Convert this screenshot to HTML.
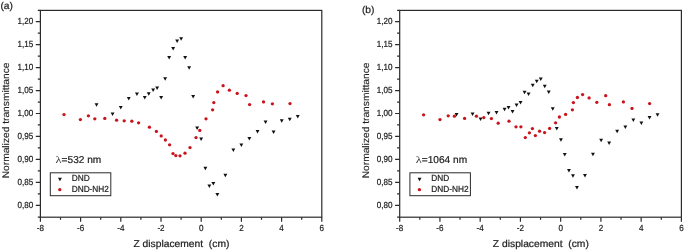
<!DOCTYPE html>
<html lang="en">
<head>
<meta charset="utf-8">
<title>Z-scan normalized transmittance</title>
<style>
html,body{margin:0;padding:0;background:#fff;}
body{width:685px;height:251px;overflow:hidden;}
svg{display:block;font-family:"Liberation Sans",sans-serif;fill:#1e1e1e;}
.t{font-size:8.9px;}
.a{font-size:10px;}
.l{font-size:8.8px;}
.y{font-size:9.6px;stroke-width:0.12px;}
text{stroke:#1e1e1e;stroke-width:0.22px;text-rendering:geometricPrecision;}
.s{font-family:"Liberation Serif","DejaVu Serif",serif;font-size:9.6px;stroke:none;fill:#3c3c3c;}
</style>
</head>
<body>
<svg width="685" height="251" viewBox="0 0 685 251">
<rect width="685" height="251" fill="#fff"/>
<g fill="none" stroke="#2b2b2b" stroke-width="1.2">
<rect x="40.40" y="10.4" width="281.40" height="206.80"/>
<path d="M40.40 217.2v4.6M60.50 217.2v2.6M80.60 217.2v4.6M100.70 217.2v2.6M120.80 217.2v4.6M140.90 217.2v2.6M161.00 217.2v4.6M181.10 217.2v2.6M201.20 217.2v4.6M221.30 217.2v2.6M241.40 217.2v4.6M261.50 217.2v2.6M281.60 217.2v4.6M301.70 217.2v2.6M321.80 217.2v4.6M40.40 217.20h-2.6M40.40 205.30h-4.6M40.40 193.82h-2.6M40.40 182.35h-4.6M40.40 170.88h-2.6M40.40 159.40h-4.6M40.40 147.93h-2.6M40.40 136.45h-4.6M40.40 124.97h-2.6M40.40 113.50h-4.6M40.40 102.03h-2.6M40.40 90.55h-4.6M40.40 79.08h-2.6M40.40 67.60h-4.6M40.40 56.12h-2.6M40.40 44.65h-4.6M40.40 33.17h-2.6M40.40 21.70h-4.6M40.40 10.40h-2.6"/>
</g>
<g class="t" text-anchor="middle">
<text transform="translate(40.40 231.1) scale(0.91 1)">-8</text>
<text transform="translate(80.60 231.1) scale(0.91 1)">-6</text>
<text transform="translate(120.80 231.1) scale(0.91 1)">-4</text>
<text transform="translate(161.00 231.1) scale(0.91 1)">-2</text>
<text transform="translate(201.20 231.1) scale(0.91 1)">0</text>
<text transform="translate(241.40 231.1) scale(0.91 1)">2</text>
<text transform="translate(281.60 231.1) scale(0.91 1)">4</text>
<text transform="translate(321.80 231.1) scale(0.91 1)">6</text>
</g>
<g class="t" text-anchor="end">
<text transform="translate(33.20 207.65) scale(0.91 1)">0,80</text>
<text transform="translate(33.20 184.70) scale(0.91 1)">0,85</text>
<text transform="translate(33.20 161.75) scale(0.91 1)">0,90</text>
<text transform="translate(33.20 138.80) scale(0.91 1)">0,95</text>
<text transform="translate(33.20 115.85) scale(0.91 1)">1,00</text>
<text transform="translate(33.20 92.90) scale(0.91 1)">1,05</text>
<text transform="translate(33.20 69.95) scale(0.91 1)">1,10</text>
<text transform="translate(33.20 47.00) scale(0.91 1)">1,15</text>
<text transform="translate(33.20 24.05) scale(0.91 1)">1,20</text>
</g>
<text class="a" transform="translate(181.40 247.4) scale(1.028 1)" text-anchor="middle" xml:space="preserve">Z displacement  (cm)</text>
<text class="y" transform="translate(9.30 120.4) rotate(-90) scale(1.064 1)" text-anchor="middle">Normalized transmittance</text>
<text class="a" transform="translate(0.4 9.0) scale(1.028 1)">(a)</text>
<text class="s" transform="translate(55.60 162.95) scale(1.3 1)">λ</text>
<text class="a" transform="translate(61.60 162.95) scale(1.012 1)">=532 nm</text>
<rect x="50.30" y="172.8" width="60.5" height="22.9" fill="#fff" stroke="#2b2b2b" stroke-width="1"/>
<g fill="#111"><path d="M58.00 177.70H61.90L59.95 181.20Z"/></g>
<g fill="#c9141d"><circle cx="59.80" cy="189.70" r="1.65"/></g>
<text class="l" transform="translate(71.70 181.4) scale(0.94 1)">DND</text>
<text class="l" transform="translate(71.70 192.0) scale(0.94 1)">DND-NH2</text>
<g fill="#c9141d"><circle cx="64.00" cy="114.60" r="1.65"/><circle cx="80.40" cy="119.60" r="1.65"/><circle cx="88.40" cy="115.80" r="1.65"/><circle cx="94.80" cy="118.80" r="1.65"/><circle cx="104.80" cy="118.40" r="1.65"/><circle cx="116.60" cy="120.20" r="1.65"/><circle cx="124.20" cy="120.80" r="1.65"/><circle cx="131.80" cy="121.20" r="1.65"/><circle cx="138.60" cy="122.80" r="1.65"/><circle cx="149.40" cy="127.20" r="1.65"/><circle cx="156.40" cy="131.40" r="1.65"/><circle cx="161.20" cy="135.90" r="1.65"/><circle cx="165.40" cy="140.00" r="1.65"/><circle cx="169.60" cy="144.80" r="1.65"/><circle cx="173.00" cy="153.60" r="1.65"/><circle cx="175.80" cy="155.60" r="1.65"/><circle cx="180.00" cy="155.80" r="1.65"/><circle cx="185.00" cy="153.20" r="1.65"/><circle cx="190.00" cy="147.60" r="1.65"/><circle cx="196.00" cy="137.60" r="1.65"/><circle cx="199.80" cy="130.40" r="1.65"/><circle cx="206.00" cy="118.80" r="1.65"/><circle cx="212.60" cy="109.80" r="1.65"/><circle cx="213.80" cy="102.60" r="1.65"/><circle cx="217.60" cy="91.90" r="1.65"/><circle cx="223.10" cy="85.70" r="1.65"/><circle cx="229.40" cy="90.20" r="1.65"/><circle cx="237.20" cy="93.40" r="1.65"/><circle cx="246.00" cy="95.60" r="1.65"/><circle cx="249.60" cy="104.60" r="1.65"/><circle cx="263.50" cy="101.90" r="1.65"/><circle cx="272.40" cy="103.80" r="1.65"/><circle cx="290.00" cy="103.60" r="1.65"/></g>
<g fill="#111"><path d="M94.60 103.20H98.50L96.55 106.70Z"/><path d="M110.60 112.60H114.50L112.55 116.10Z"/><path d="M118.80 106.00H122.70L120.75 109.50Z"/><path d="M126.80 97.00H130.70L128.75 100.50Z"/><path d="M135.00 92.60H138.90L136.95 96.10Z"/><path d="M142.80 96.00H146.70L144.75 99.50Z"/><path d="M146.80 92.20H150.70L148.75 95.70Z"/><path d="M151.20 88.60H155.10L153.15 92.10Z"/><path d="M155.20 86.60H159.10L157.15 90.10Z"/><path d="M159.20 96.00H163.10L161.15 99.50Z"/><path d="M163.20 77.20H167.10L165.15 80.70Z"/><path d="M167.20 56.00H171.10L169.15 59.50Z"/><path d="M171.20 47.00H175.10L173.15 50.50Z"/><path d="M175.20 39.60H179.10L177.15 43.10Z"/><path d="M179.20 37.20H183.10L181.15 40.70Z"/><path d="M183.20 56.00H187.10L185.15 59.50Z"/><path d="M187.20 66.20H191.10L189.15 69.70Z"/><path d="M191.20 95.00H195.10L193.15 98.50Z"/><path d="M195.20 126.60H199.10L197.15 130.10Z"/><path d="M199.20 137.60H203.10L201.15 141.10Z"/><path d="M203.40 166.80H207.30L205.35 170.30Z"/><path d="M207.40 184.60H211.30L209.35 188.10Z"/><path d="M211.40 182.00H215.30L213.35 185.50Z"/><path d="M215.40 193.00H219.30L217.35 196.50Z"/><path d="M223.40 173.80H227.30L225.35 177.30Z"/><path d="M231.40 148.60H235.30L233.35 152.10Z"/><path d="M239.40 143.60H243.30L241.35 147.10Z"/><path d="M247.40 137.00H251.30L249.35 140.50Z"/><path d="M255.60 130.00H259.50L257.55 133.50Z"/><path d="M263.60 120.60H267.50L265.55 124.10Z"/><path d="M271.60 130.60H275.50L273.55 134.10Z"/><path d="M279.80 119.20H283.70L281.75 122.70Z"/><path d="M287.80 117.80H291.70L289.75 121.30Z"/><path d="M295.80 115.00H299.70L297.75 118.50Z"/></g>
<g fill="none" stroke="#2b2b2b" stroke-width="1.2">
<rect x="399.70" y="10.4" width="281.70" height="206.80"/>
<path d="M399.70 217.2v4.6M419.82 217.2v2.6M439.94 217.2v4.6M460.06 217.2v2.6M480.19 217.2v4.6M500.31 217.2v2.6M520.43 217.2v4.6M540.55 217.2v2.6M560.67 217.2v4.6M580.79 217.2v2.6M600.91 217.2v4.6M621.04 217.2v2.6M641.16 217.2v4.6M661.28 217.2v2.6M681.40 217.2v4.6M399.70 217.20h-2.6M399.70 205.30h-4.6M399.70 193.82h-2.6M399.70 182.35h-4.6M399.70 170.88h-2.6M399.70 159.40h-4.6M399.70 147.93h-2.6M399.70 136.45h-4.6M399.70 124.97h-2.6M399.70 113.50h-4.6M399.70 102.03h-2.6M399.70 90.55h-4.6M399.70 79.08h-2.6M399.70 67.60h-4.6M399.70 56.12h-2.6M399.70 44.65h-4.6M399.70 33.17h-2.6M399.70 21.70h-4.6M399.70 10.40h-2.6"/>
</g>
<g class="t" text-anchor="middle">
<text transform="translate(399.70 231.1) scale(0.91 1)">-8</text>
<text transform="translate(439.94 231.1) scale(0.91 1)">-6</text>
<text transform="translate(480.19 231.1) scale(0.91 1)">-4</text>
<text transform="translate(520.43 231.1) scale(0.91 1)">-2</text>
<text transform="translate(560.67 231.1) scale(0.91 1)">0</text>
<text transform="translate(600.91 231.1) scale(0.91 1)">2</text>
<text transform="translate(641.16 231.1) scale(0.91 1)">4</text>
<text transform="translate(681.40 231.1) scale(0.91 1)">6</text>
</g>
<g class="t" text-anchor="end">
<text transform="translate(392.50 207.65) scale(0.91 1)">0,80</text>
<text transform="translate(392.50 184.70) scale(0.91 1)">0,85</text>
<text transform="translate(392.50 161.75) scale(0.91 1)">0,90</text>
<text transform="translate(392.50 138.80) scale(0.91 1)">0,95</text>
<text transform="translate(392.50 115.85) scale(0.91 1)">1,00</text>
<text transform="translate(392.50 92.90) scale(0.91 1)">1,05</text>
<text transform="translate(392.50 69.95) scale(0.91 1)">1,10</text>
<text transform="translate(392.50 47.00) scale(0.91 1)">1,15</text>
<text transform="translate(392.50 24.05) scale(0.91 1)">1,20</text>
</g>
<text class="a" transform="translate(540.85 247.4) scale(1.028 1)" text-anchor="middle" xml:space="preserve">Z displacement  (cm)</text>
<text class="y" transform="translate(369.30 120.4) rotate(-90) scale(1.064 1)" text-anchor="middle">Normalized transmittance</text>
<text class="a" transform="translate(361.9 12.6) scale(1.028 1)">(b)</text>
<text class="s" transform="translate(415.80 162.95) scale(1.3 1)">λ</text>
<text class="a" transform="translate(421.80 162.95) scale(1.012 1)">=1064 nm</text>
<rect x="409.90" y="172.8" width="60.5" height="22.9" fill="#fff" stroke="#2b2b2b" stroke-width="1"/>
<g fill="#111"><path d="M417.60 177.70H421.50L419.55 181.20Z"/></g>
<g fill="#c9141d"><circle cx="419.40" cy="189.70" r="1.65"/></g>
<text class="l" transform="translate(431.30 181.4) scale(0.94 1)">DND</text>
<text class="l" transform="translate(431.30 192.0) scale(0.94 1)">DND-NH2</text>
<g fill="#c9141d"><circle cx="423.60" cy="114.80" r="1.65"/><circle cx="440.00" cy="119.60" r="1.65"/><circle cx="448.20" cy="115.80" r="1.65"/><circle cx="454.40" cy="116.20" r="1.65"/><circle cx="464.60" cy="118.40" r="1.65"/><circle cx="476.40" cy="116.20" r="1.65"/><circle cx="483.80" cy="117.60" r="1.65"/><circle cx="491.40" cy="118.60" r="1.65"/><circle cx="498.20" cy="123.20" r="1.65"/><circle cx="509.00" cy="121.20" r="1.65"/><circle cx="516.00" cy="126.80" r="1.65"/><circle cx="520.90" cy="126.80" r="1.65"/><circle cx="525.30" cy="137.60" r="1.65"/><circle cx="529.40" cy="132.80" r="1.65"/><circle cx="532.40" cy="128.60" r="1.65"/><circle cx="535.40" cy="135.60" r="1.65"/><circle cx="539.60" cy="131.20" r="1.65"/><circle cx="544.60" cy="132.60" r="1.65"/><circle cx="549.60" cy="128.40" r="1.65"/><circle cx="555.60" cy="122.80" r="1.65"/><circle cx="559.40" cy="117.00" r="1.65"/><circle cx="565.60" cy="114.40" r="1.65"/><circle cx="572.40" cy="109.80" r="1.65"/><circle cx="573.40" cy="102.60" r="1.65"/><circle cx="577.40" cy="97.50" r="1.65"/><circle cx="582.60" cy="94.60" r="1.65"/><circle cx="589.10" cy="97.90" r="1.65"/><circle cx="596.80" cy="102.30" r="1.65"/><circle cx="605.70" cy="95.70" r="1.65"/><circle cx="609.40" cy="104.70" r="1.65"/><circle cx="623.40" cy="101.90" r="1.65"/><circle cx="632.00" cy="108.40" r="1.65"/><circle cx="649.60" cy="103.60" r="1.65"/></g>
<g fill="#111"><path d="M454.60 113.00H458.50L456.55 116.50Z"/><path d="M470.60 112.60H474.50L472.55 116.10Z"/><path d="M478.60 117.60H482.50L480.55 121.10Z"/><path d="M486.60 111.80H490.50L488.55 115.30Z"/><path d="M494.60 111.00H498.50L496.55 114.50Z"/><path d="M502.60 107.80H506.50L504.55 111.30Z"/><path d="M506.60 106.00H510.50L508.55 109.50Z"/><path d="M510.60 110.00H514.50L512.55 113.50Z"/><path d="M514.60 103.60H518.50L516.55 107.10Z"/><path d="M518.60 101.10H522.50L520.55 104.60Z"/><path d="M522.60 90.80H526.50L524.55 94.30Z"/><path d="M526.60 92.60H530.50L528.55 96.10Z"/><path d="M530.80 83.80H534.70L532.75 87.30Z"/><path d="M534.80 79.80H538.70L536.75 83.30Z"/><path d="M538.80 77.40H542.70L540.75 80.90Z"/><path d="M542.80 84.80H546.70L544.75 88.30Z"/><path d="M546.80 90.40H550.70L548.75 93.90Z"/><path d="M550.80 107.30H554.70L552.75 110.80Z"/><path d="M554.80 126.90H558.70L556.75 130.40Z"/><path d="M559.00 138.20H562.90L560.95 141.70Z"/><path d="M562.80 153.00H566.70L564.75 156.50Z"/><path d="M567.00 169.00H570.90L568.95 172.50Z"/><path d="M571.00 174.20H574.90L572.95 177.70Z"/><path d="M575.00 186.00H578.90L576.95 189.50Z"/><path d="M583.00 174.00H586.90L584.95 177.50Z"/><path d="M591.00 152.80H594.90L592.95 156.30Z"/><path d="M599.20 138.80H603.10L601.15 142.30Z"/><path d="M607.20 141.40H611.10L609.15 144.90Z"/><path d="M615.20 129.80H619.10L617.15 133.30Z"/><path d="M623.40 125.60H627.30L625.35 129.10Z"/><path d="M631.40 118.60H635.30L633.35 122.10Z"/><path d="M639.40 121.60H643.30L641.35 125.10Z"/><path d="M647.60 116.00H651.50L649.55 119.50Z"/><path d="M655.60 113.20H659.50L657.55 116.70Z"/></g>
</svg>
</body>
</html>
